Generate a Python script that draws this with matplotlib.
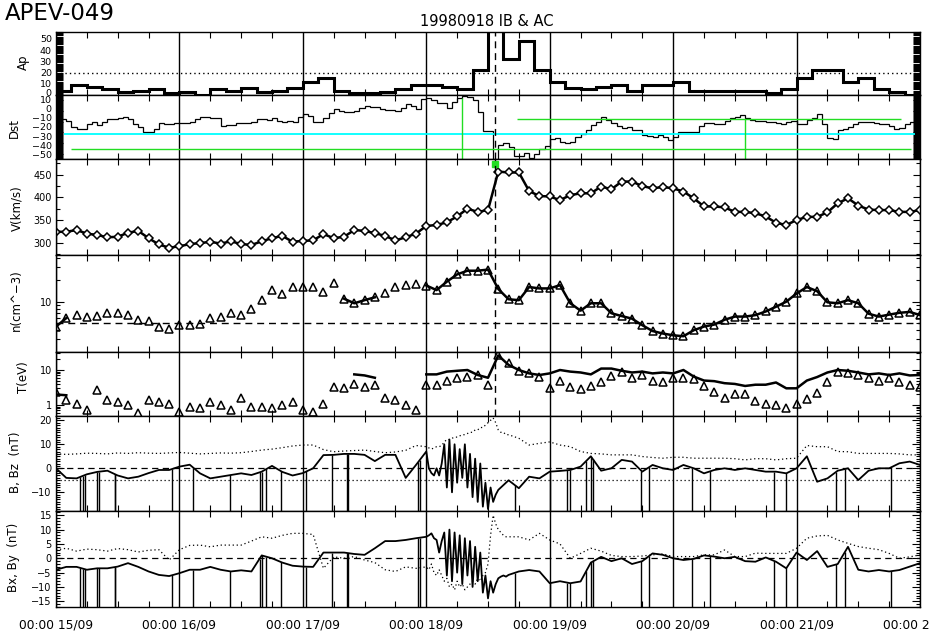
import numpy as np
import matplotlib
matplotlib.use("Agg")
import matplotlib.pyplot as plt
import matplotlib.transforms as mtransforms
from matplotlib.ticker import MultipleLocator, FixedLocator, LogLocator, NullFormatter, FuncFormatter

plt.rcParams['font.family'] = ['DejaVu Sans']

# time axis: hours since 00:00 15/09/1998
day_ticks = [0, 24, 48, 72, 96, 120, 144, 168]
day_labels = ['00:00 15/09', '00:00 16/09', '00:00 17/09', '00:00 18/09',
              '00:00 19/09', '00:00 20/09', '00:00 21/09', '00:00 22/09']
shock_hour = 85.4

# Ap, 3-hourly
ap = [4, 9, 7, 5, 3, 4, 5, 2,
      3, 0, 5, 4, 6, 3, 4, 6,
      12, 15, 4, 2, 2, 3, 5, 9,
      9, 7, 5, 22, 67, 32, 48, 22,
      12, 6, 5, 7, 9, 4, 9, 9,
      12, 4, 4, 4, 4, 4, 2, 5,
      15, 22, 22, 12, 15, 5, 3, 0]

# Dst, hourly
dst = [-10, -11, -13, -20, -22, -22, -17, -15, -18, -14, -11, -11, -10, -9, -11, -17, -20, -25, -25, -22, -16, -17, -17, -16,
       -16, -16, -15, -11, -9, -9, -10, -10, -19, -18, -18, -16, -16, -16, -14, -11, -11, -12, -10, -13, -15, -13, -14, -9,
       -6, -8, -14, -14, -10, -5, 0, -3, -4, -4, -2, 1, 3, 2, 2, 0, -1, -1, -2, 1, 5, 3, 0, 11,
       12, 9, 6, 6, 1, 7, 12, 14, 13, 9.5, -4, -24, -24, -60, -40, -37, -42, -52, -52, -48, -54, -49, -44, -41,
       -33, -32, -36, -38, -36, -31, -28, -23, -18, -14, -9, -12, -16, -19, -21, -20, -23, -23, -29, -30, -31, -29, -31, -34,
       -31, -26, -26, -26, -25, -19, -16, -16, -17, -17, -13, -10, -9, -7, -10, -12, -13, -13, -14, -15, -16, -17, -14, -13,
       -17, -17, -12, -10, -6, -17, -32, -33, -23, -22, -20, -17, -14, -14, -15, -16, -17, -17, -19, -22, -21, -17, -14, -13]
dst_cyan = -28
dst_green_low = -44.4
dst_green_high = -11.6
dst_green_vlines = [(79.0, 12), (133.9, -11.6)]

# plasma and field, 2-hourly
hours = np.arange(0, 169, 2)
v = [324, 324, 328, 320, 317, 312, 313, 322, 326, 310,
     296, 289, 292, 297, 299, 302, 298, 303, 297, 295,
     303, 310, 315, 302, 304, 305, 319, 310, 313, 328,
     326, 321, 315, 305, 312, 320, 337, 339, 345, 358, 375,
     368, 372, 457, 455, 455, 414, 403, 402, 394, 405,
     409, 409, 424, 418, 435, 435, 425, 420, 423, 420,
     413, 398, 380, 380, 378, 368, 368, 365, 358, 344,
     339, 350, 357, 357, 367, 387, 398, 382, 373, 372,
     372, 368, 368, 372]
dens = [4.5, 5.9, 6.5, 6.2, 6.3, 6.9, 6.9, 6.5, 5.6, 5.3,
        4.4, 4.2, 4.8, 4.7, 4.9, 6.0, 6.2, 7.0, 6.5, 8.0,
        10.5, 14.5, 12.8, 15.8, 16.2, 16.0, 13.6, 18.0, 11.0, 9.5,
        10.5, 11.5, 13.0, 16.0, 17.2, 17.6, 16.8, 14.5, 19.0, 24.0, 27.0,
        27, 28, 15, 10.8, 10.5, 16, 15.3, 15.3, 17, 9.5,
        7.5, 9.5, 9.5, 6.9, 6.3, 5.8, 4.7, 3.9, 3.6, 3.4,
        3.3, 4.0, 4.5, 4.8, 5.6, 6.2, 6.2, 6.5, 7.3, 8.5,
        10, 13, 16, 14, 9.8, 9.5, 10.5, 9.5, 6.8, 6.2,
        6.6, 7.0, 7.2, 6.5]
dens_line_spans = [(0, 3), (56, 63), (71, 169)]
temp_tri = [2.4, 1.4, 1.1, 0.72, 2.7, 1.4, 1.25, 1.0, 0.58, 1.4,
            1.25, 1.1, 0.65, 0.9, 0.8, 1.25, 1.0, 0.72, 1.55, 0.9,
            0.9, 0.8, 1.0, 1.25, 0.72, 0.65, 1.1, 3.3, 3.0, 3.9,
            3.3, 3.7, 1.6, 1.4, 1.0, 0.72, 3.7, 3.7, 5.0, 6.0, 6.5,
            7.2, 3.7, 26, 16, 9.5, 8.0, 6.2, 3.0, 4.8, 3.2,
            2.8, 3.5, 4.5, 6.8, 8.5, 6.0, 7.0, 5.0, 4.6, 5.8,
            6.0, 5.4, 3.6, 2.4, 1.6, 2.1, 2.0, 1.3, 1.1, 1.0,
            0.8, 1.1, 1.5, 2.2, 4.6, 8.5, 8.0, 7.0, 5.8, 5.0,
            6.0, 4.4, 3.7, 3.3]
nan = np.nan
temp_line = [2.0, 1.9, nan, nan, nan, nan, nan, nan, nan, nan,
             nan, nan, nan, nan, nan, nan, nan, nan, nan, nan,
             nan, nan, nan, nan, nan, nan, nan, nan, nan, 7.5,
             7.0, 6.0, nan, nan, nan, nan, 7.5, 7.5, 9.0, 9.5, 10.0,
             7.2, 6.0, 26, 14, 10, 8.0, 7.2, 8.0, 10, 9.0,
             8.5, 7.5, 11, 11, 9.5, 8.5, 9.0, 8.0, 8.5, 8.0,
             10, 6.5, 5.0, 4.8, 4.2, 4.0, 3.5, 3.8, 3.8, 4.4,
             3.0, 3.0, 5.0, 6.3, 8.5, 10, 9.5, 8.5, 7.5, 8.0,
             7.2, 8.0, 7.0, 7.2]
b_tot = [6.0, 5.8, 6.0, 6.3, 6.2, 6.0, 6.4, 6.2, 6.5, 6.3,
         6.2, 6.4, 6.6, 6.3, 6.0, 6.2, 6.4, 6.3, 6.5, 7.0,
         7.6, 8.0, 8.6, 9.3, 9.7, 9.7, 7.8, 6.9, 7.2, 7.4,
         7.6, 7.0, 6.5, 6.8, 7.5, 9.5, 9.8, 10, 11.5, 12.5, 12,
         12, 14, 20, 16, 12.5, 9.7, 10.4, 11, 9.7, 9.0,
         7.0, 6.2, 6.0, 5.6, 5.6, 5.6, 4.9, 4.5, 4.2, 4.6,
         4.6, 4.2, 4.2, 4.2, 4.2, 4.0, 3.5, 4.0, 4.0, 3.5,
         4.0, 4.2, 9.5, 9.0, 9.0, 7.0, 6.9, 6.2, 6.2, 6.2,
         6.2, 6.0, 5.6, 5.6]
bz = [0, -4.0, -4.2, -2.5, -1.5, -1.0, -3.0, -4.2, -3.5, -2.0,
      -0.7, -0.7, 0.7, 1.5, -2.1, -4.2, -3.5, -2.8, -2.1, -2.8,
      -1.4, 1.0, -1.5, -3.0, -2.0, 0, 5.5, 5.6, 6.0, 6.0,
      5.6, 3.0, 5.6, 5.6, -4.0, 1.4, -1.4, 0, 5.0, -6, 3,
      -8, -10, -9.5, -7, -8.3, -3.5, -4.2, -1.4, -1.1, -0.7,
      0.7, 5.0, -1, 0, 3.5, 2.8, -1.4, 1.4, 0, -0.7,
      1.4, 0, -2.1, -0.7, 0, -0.7, 0, -0.7, -1.4, -1.4,
      -2.1, 0, 5.0, -5.6, -4.2, -1, 0, -4.9, -1, 0,
      0, 2.1, 2.8, 1.4]
bx = [2.9, 3.5, 2.5, 3.2, 3.0, 2.5, 3.4, 3.0, 2.2, 2.8,
      3.0, -0.6, 3.0, 4.5, 4.6, 4.0, 4.6, 4.6, 4.6, 6.0,
      7.5, 7.0, 8.0, 8.7, 8.7, 8.3, -3.5, 0.5, 0, 0.6,
      -0.6, -1.5, -4, -4.6, -3, -3.5, -3, -6.4, -7.5, -8.7, -9.9,
      -6, -9, 11, 7.5, 7.5, 6.4, 8.7, 6.4, 5, 0,
      1.7, 3.5, 2.5, 1, 0.6, 0.6, 0.8, 1.2, 1.5, 0.6,
      0.6, 0.6, 1.2, 1.2, 2.9, 0.6, 0.6, 1.8, 1.7, 1.7,
      1.7, 3.5, 7.0, 7.8, 8.0, 6.4, 5.2, 4.1, 3.5, 3.0,
      1.7, 0, 0.5, 1.2]
by = [-4, -3, -3, -4, -3.5, -3.5, -2.9, -1.7, -3.0, -4.6,
      -5.8, -6.2, -5.2, -4, -4, -3, -4, -4.6, -4.2, -4.6,
      1.0, 0, -1.5, -2.6, -2.9, -3, 2.0, 2.0, 2.0, 1.5,
      1.2, 3.5, 6.0, 6.0, 6.4, 7.0, 8.5, 5, 4, 3, 2,
      5, -8, -7, -5.8, -4.6, -4.1, -4.6, -8.7, -8, -8.7,
      -8.1, -1.5, 0.5, -1, 0, -2, -1, 1.7, 1.2, 0,
      -0.6, -0.2, 1.0, 0.6, 0, 0.5, -1.0, -1.2, 0.3, -1.2,
      -3.5, 2, -0.6, 2.5, -3, -2, 4, -4, -4.6, -4.1,
      -4.6, -4.1, -2.9, -1.7]

# field around the shock, half-hourly
hours_fine = np.arange(72, 88.5, 0.5)
b_tot_fine = [9, 8.5, 8, 8.5, 9, 9, 9.5, 11, 12, 12,
              12.5, 13, 13, 13.5, 14, 14, 14.5, 15, 15, 16,
              16, 17, 17, 18, 19, 20, 21, 19, 16, 15,
              15, 14, 14]
bz_fine = [7, 0, -2, -3, 0, -3, 2, 10, -8, 12,
           -10, 10, -6, 8, -4, 10, -8, 6, -12, 4,
           -14, 2, -16, -6, -17, -8, -14, -11, -9, -8,
           -7, -6, -5]
bx_fine = [-3, -4, -2, -5, -6, -4, -6, -8, -7, -10,
           -9, -11, -8, -10, -9, -11, -10, -9, -8, -9,
           -7, -8, -6, -5, -2, 8, 15, 12, 10, 9,
           8, 7.5, 7.5]
by_fine = [7.5, 8, 8.7, 7, 6.4, 2, 6, 9, -6, 10,
           -8, 9, -5, 8, -9, 7, -6, 6, -10, 4,
           -8, 2, -12, -6, -14, -8, -12, -9, -7, -6.4,
           -6, -6.4, -5.8]

# data gaps (fill values drawn as drops)
gap_hours = [4.7, 5.3, 5.6, 7.9, 8.4, 11.4, 11.5, 22.6, 26.7, 33.8, 39.6, 40.0, 40.8,
             43.8, 48.7, 53.6, 56.5, 56.8, 70.4, 70.7, 89.2, 96.0, 99.4, 99.9,
             103.1, 104.1, 104.4, 113.8, 115.4, 123.6, 127.1, 139.6, 142.0,
             151.7, 153.4, 162.4]

# ---------- helpers ----------
hours = np.asarray(hours, dtype=float)
coarse_lo = hours < 72
coarse_hi = hours > 88


def merge(base, fine):
    b = np.asarray(base, dtype=float)
    return np.concatenate([b[coarse_lo], fine, b[coarse_hi]])


tb = np.concatenate([hours[coarse_lo], hours_fine, hours[coarse_hi]])
bt_all = merge(b_tot, b_tot_fine)
bz_all = merge(bz, bz_fine)
bx_all = merge(bx, bx_fine)
by_all = merge(by, by_fine)

dens_arr = np.asarray(dens, dtype=float)
dens_mask = np.zeros(len(hours), dtype=bool)
for a, b in dens_line_spans:
    dens_mask |= (hours >= a) & (hours < b)
dens_line = np.where(dens_mask, dens_arr, np.nan)

W, H = 930, 640
fig = plt.figure(figsize=(W / 100, H / 100), dpi=100)

# panel pixel extents (top, bottom)
rows = [(32, 95), (95, 159), (159, 255), (255, 352), (352, 416), (416, 511), (511, 607)]
left_px, right_px = 56, 920
axes = []
for top, bot in rows:
    ax = fig.add_axes([left_px / W, 1 - bot / H, (right_px - left_px) / W, (bot - top) / H])
    axes.append(ax)
ax_ap, ax_dst, ax_v, ax_n, ax_t, ax_b, ax_bxy = axes

dotted = (0, (1, 2.2))
dashed = (0, (5, 3.5))

for ax in axes:
    ax.set_xlim(0, 168)
    ax.xaxis.set_major_locator(FixedLocator(day_ticks))
    ax.xaxis.set_minor_locator(MultipleLocator(6))
    ax.grid(axis='x', which='major', color='black', lw=1.0)
    ax.tick_params(which='both', direction='in', top=True, right=True, labelsize=7, width=0.8, pad=3)
    ax.tick_params(axis='x', which='major', length=0, labelbottom=False)
    ax.tick_params(axis='x', which='minor', length=4)
    for s in ax.spines.values():
        s.set_linewidth(1.0)

# Ap
ax_ap.stairs(ap, np.arange(0, 169, 3), baseline=None, color='black', lw=2.2)
ax_ap.axhline(20, color='black', lw=1.0, ls=dotted)
ax_ap.set_ylim(0, 56)
ax_ap.yaxis.set_major_locator(FixedLocator([0, 10, 20, 30, 40, 50]))
ax_ap.yaxis.set_minor_locator(MultipleLocator(1))
ax_ap.tick_params(axis='y', which='both', length=5, labelsize=6.8)
ap_labels = ax_ap.set_yticklabels(['0', '10', '20', '30', '40', '50'])
ap_labels[0].set_transform(ap_labels[0].get_transform()
                           + mtransforms.ScaledTranslation(0, 2.5 / 100, fig.dpi_scale_trans))

# Dst
ax_dst.stairs(dst, np.arange(0, 169, 1), baseline=None, color='black', lw=0.9)
ax_dst.hlines(dst_cyan, 1.55, 167, color='#00ffff', lw=1.3)
ax_dst.hlines(dst_green_low, 2.9, 166.3, color='#22dd22', lw=1.0)
ax_dst.hlines(dst_green_high, 89.6, 164.4, color='#22dd22', lw=1.0)
for xg, yg in dst_green_vlines:
    ax_dst.vlines(xg, -55, yg, color='#22dd22', lw=1.0)
ax_dst.set_ylim(-55, 15)
ax_dst.yaxis.set_major_locator(MultipleLocator(10))
ax_dst.yaxis.set_minor_locator(MultipleLocator(1))
ax_dst.tick_params(axis='y', which='both', length=5, labelsize=6.8)

# V
ax_v.plot(hours, v, color='black', lw=1.8)
ax_v.plot(hours, v, ls='none', marker='D', ms=4.5, mfc='white', mec='black', mew=1.1)
ax_v.plot([shock_hour], [0.95], transform=ax_v.get_xaxis_transform(), marker='s', ms=5,
          color='#22dd22', ls='none', clip_on=False)
ax_v.set_ylim(272.8, 484.8)
ax_v.yaxis.set_major_locator(MultipleLocator(50))
ax_v.yaxis.set_minor_locator(MultipleLocator(25))
ax_v.tick_params(axis='y', which='major', length=5)
ax_v.tick_params(axis='y', which='minor', length=3)

# n
ax_n.set_yscale('log')
ax_n.plot(hours, dens_line, color='black', lw=1.8)
ax_n.plot(hours, dens, ls='none', marker='^', ms=5.5, mfc='none', mec='black', mew=1.1)
ax_n.axhline(5, color='black', lw=1.0, ls=dashed)
ax_n.set_ylim(1.99, 44.7)
ax_n.yaxis.set_major_locator(LogLocator(base=10))
ax_n.yaxis.set_major_formatter(FuncFormatter(lambda y, p: f'{y:g}'))
ax_n.yaxis.set_minor_locator(LogLocator(base=10, subs=np.arange(2, 10)))
ax_n.yaxis.set_minor_formatter(NullFormatter())
ax_n.tick_params(axis='y', which='major', length=6)
ax_n.tick_params(axis='y', which='minor', length=3)

# T
ax_t.set_yscale('log')
ax_t.plot(hours, temp_line, color='black', lw=1.8)
ax_t.plot(hours, temp_tri, ls='none', marker='^', ms=5.5, mfc='none', mec='black', mew=1.1)
ax_t.set_ylim(0.485, 32.7)
ax_t.yaxis.set_major_locator(LogLocator(base=10))
ax_t.yaxis.set_major_formatter(FuncFormatter(lambda y, p: f'{y:g}'))
ax_t.yaxis.set_minor_locator(LogLocator(base=10, subs=np.arange(2, 10)))
ax_t.yaxis.set_minor_formatter(NullFormatter())
ax_t.tick_params(axis='y', which='major', length=6)
ax_t.tick_params(axis='y', which='minor', length=3)

# B, Bz
ax_b.plot(tb, bt_all, color='black', lw=0.9, ls=dotted)
ax_b.plot(tb, bz_all, color='black', lw=1.3)
ax_b.vlines(gap_hours, -30, np.interp(gap_hours, tb, bz_all), color='black', lw=1.0)
ax_b.axhline(0, color='black', lw=0.9, ls=dashed)
ax_b.axhline(-5, color='black', lw=0.9, ls=dotted)
ax_b.set_ylim(-17.8, 21.8)
ax_b.yaxis.set_major_locator(MultipleLocator(10))
ax_b.yaxis.set_minor_locator(MultipleLocator(1))
ax_b.tick_params(axis='y', which='major', length=6)
ax_b.tick_params(axis='y', which='minor', length=3)

# Bx, By
ax_bxy.plot(tb, bx_all, color='black', lw=0.9, ls=dotted)
ax_bxy.plot(tb, by_all, color='black', lw=1.3)
ax_bxy.vlines(gap_hours, -30, np.interp(gap_hours, tb, by_all), color='black', lw=1.0)
ax_bxy.axhline(0, color='black', lw=0.9, ls=dashed)
ax_bxy.set_ylim(-17.0, 16.5)
ax_bxy.yaxis.set_major_locator(MultipleLocator(5))
ax_bxy.yaxis.set_minor_locator(MultipleLocator(1))
ax_bxy.tick_params(axis='y', which='major', length=6)
ax_bxy.tick_params(axis='y', which='minor', length=3)
ax_bxy.tick_params(axis='x', which='major', labelbottom=True, pad=8, labelsize=8.8)
ax_bxy.set_xticklabels(day_labels)

# shock marker
for ax in [ax_ap, ax_dst, ax_v, ax_n, ax_t]:
    ax.axvline(shock_hour, color='black', lw=1.0, ls=dashed)

# labels
ylabels = [('Ap', 23, 62), ('Dst', 14, 128), ('V(km/s)', 17, 208), ('n(cm^−3)', 16, 300),
           ('T(eV)', 23, 377), ('B, Bz  (nT)', 15, 462), ('Bx, By  (nT)', 13, 557)]
for txt, xp, yp in ylabels:
    fig.text(xp / W, 1 - yp / H, txt, rotation=90, ha='center', va='center', fontsize=8.5)

fig.text(5 / W, 1 - 13 / H, 'APEV-049', ha='left', va='center', fontsize=16.5)
fig.text(487 / W, 1 - 21 / H, '19980918 IB & AC', ha='center', va='center', fontsize=10.5)

fig.savefig('out.png', dpi=100)
